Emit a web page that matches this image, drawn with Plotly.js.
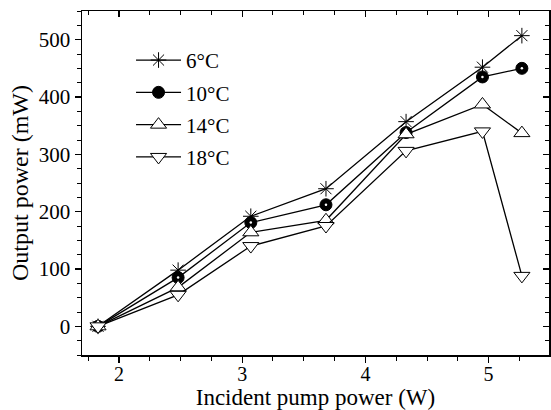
<!DOCTYPE html>
<html>
<head>
<meta charset="utf-8">
<script src="https://cdn.plot.ly/plotly-3.0.1.min.js"></script>
<style>html,body{margin:0;padding:0;background:#fff;}#chart{width:551px;height:410px;}</style>
</head>
<body>
<div id="chart"></div>
<script>
const pumpPower = [1.83, 2.48, 3.07, 3.68, 4.33, 4.95, 5.27];
const seriesNames = ["6°C", "10°C", "14°C", "18°C"];
const power6 = [0, 98, 192, 240, 357, 452, 507];
const power10 = [0, 85, 181, 212, 338, 435, 450];
const power14 = [0, 68, 164, 185, 335, 387, 337];
const power18 = [0, 55, 140, 175, 306, 340, 88];

const FONT = "'Liberation Serif', 'Times New Roman', serif";
const lineStyle = {color: "#000", width: 1.3};

const traces = [
  {x: pumpPower, y: power6, name: seriesNames[0], legendgroup: "a", mode: "lines+markers", line: lineStyle,
   marker: {symbol: "asterisk-open", size: 13, color: "#000", line: {color: "#000", width: 1}}},
  {x: pumpPower, y: power10, name: seriesNames[1], legendgroup: "b", mode: "lines+markers", line: lineStyle,
   marker: {symbol: "circle", size: 12, color: "#000", line: {color: "#000", width: 1}}},
  {x: pumpPower, y: power14, name: seriesNames[2], legendgroup: "c", mode: "lines+markers", line: lineStyle,
   marker: {symbol: "triangle-up", size: 14, color: "#fff", line: {color: "#000", width: 1}}},
  {x: pumpPower, y: power18, name: seriesNames[3], legendgroup: "d", mode: "lines+markers", line: lineStyle,
   marker: {symbol: "triangle-down", size: 14, color: "#fff", line: {color: "#000", width: 1}}},
  {x: pumpPower, y: power10, showlegend: false, mode: "markers", hoverinfo: "skip",
   marker: {symbol: "circle", size: 2.5, color: "#fff"}},
  // invisible carriers so the mirrored tick axes get drawn
  {x: pumpPower, y: power6, xaxis: "x2", yaxis: "y2", mode: "none", showlegend: false, hoverinfo: "skip"},
  {x: pumpPower, y: power6, xaxis: "x3", yaxis: "y", mode: "none", showlegend: false, hoverinfo: "skip"}
];

const xRange = [1.7, 5.49];
const yRange = [-50, 550];

const tickAxis = (extra) => Object.assign({
  showline: true, linecolor: "#000", linewidth: 1.5, ticklen: 6, tickwidth: 1.2, tickcolor: "#000",
  tick0: 0, showticklabels: false, showgrid: false, zeroline: false
}, extra);

const layout = {
  width: 551, height: 410,
  margin: {l: 82, r: 2, t: 11, b: 55},
  paper_bgcolor: "#fff", plot_bgcolor: "#fff",
  font: {family: FONT, size: 20, color: "#000"},
  showlegend: true,
  legend: {x: 0.105, y: 0.916, xanchor: "left", yanchor: "top", bgcolor: "rgba(0,0,0,0)",
           font: {family: FONT, size: 21}, tracegroupgap: 2, itemwidth: 45},
  xaxis: {range: xRange, showline: true, linecolor: "#000", linewidth: 1.5,
          ticks: "", dtick: 1, tick0: 0, ticklabelstandoff: 0,
          showgrid: false, zeroline: false, tickfont: {family: FONT, size: 20},
          title: {text: "Incident pump power (W)", font: {family: FONT, size: 23}, standoff: 8}},
  yaxis: {range: yRange, showline: true, linecolor: "#000", linewidth: 1.5,
          ticks: "outside", ticklen: 6, tickwidth: 1.2, tickcolor: "#000", dtick: 100, tick0: 0,
          minor: {dtick: 25, ticks: "outside", ticklen: 4, tickcolor: "#000", tickwidth: 1},
          showgrid: false, zeroline: false, tickfont: {family: FONT, size: 21},
          title: {text: "Output power (mW)", font: {family: FONT, size: 24}, standoff: 3}},
  xaxis3: tickAxis({range: xRange, overlaying: "x", side: "bottom", anchor: "y", ticks: "outside", dtick: 1,
           minor: {dtick: 0.25, ticks: "outside", ticklen: 4, tickcolor: "#000", tickwidth: 1}}),
  xaxis2: tickAxis({range: xRange, overlaying: "x", side: "top", anchor: "y", ticks: "inside", dtick: 1,
           minor: {dtick: 0.25, ticks: "inside", ticklen: 4, tickcolor: "#000", tickwidth: 1}}),
  yaxis2: tickAxis({range: yRange, overlaying: "y", side: "right", anchor: "x", ticks: "inside", dtick: 100,
           minor: {dtick: 25, ticks: "inside", ticklen: 4, tickcolor: "#000", tickwidth: 1}})
};

Plotly.newPlot("chart", traces, layout, {staticPlot: true, displayModeBar: false});
</script>
</body>
</html>
